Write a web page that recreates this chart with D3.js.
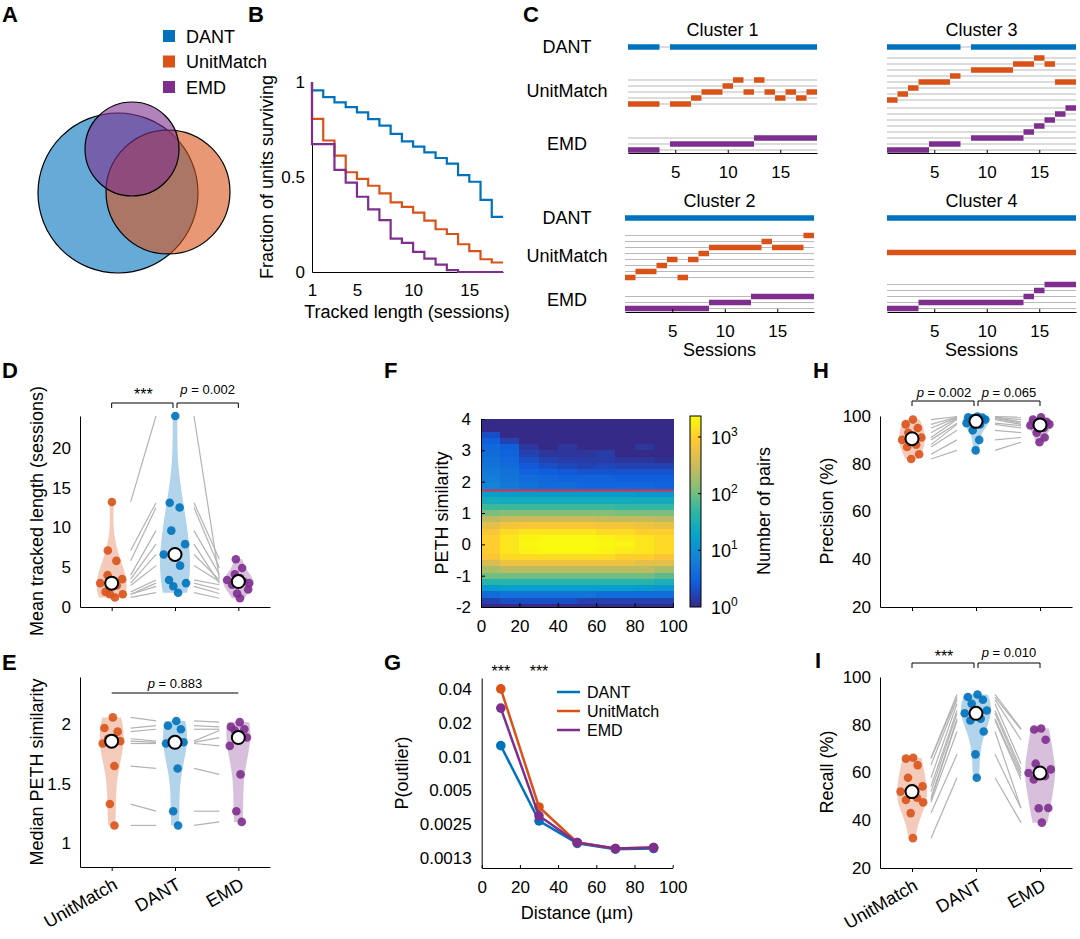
<!DOCTYPE html>
<html>
<head>
<meta charset="utf-8">
<script src="https://cdn.jsdelivr.net/npm/d3@7"></script>
<style>
  body { margin: 0; background: #fff; }
  svg text { font-family: "Liberation Sans", Arial, Helvetica, sans-serif; fill: #000; }
</style>
</head>
<body>
<script>
// ---------- data ----------
const methods = ['DANT', 'UnitMatch', 'EMD'];
const methodColors = { DANT: '#0072BD', UnitMatch: '#D95319', EMD: '#7E2F8E' };

// A: relative set sizes (DANT, UnitMatch, EMD)
const vennSizes = [1.0, 0.60, 0.345];

// B: fraction of units surviving per tracked length
const bSessions = [1, 2, 3, 4, 5, 6, 7, 8, 9, 10, 11, 12, 13, 14, 15, 16, 17];
const bDANT = [0.956, 0.92, 0.893, 0.868, 0.84, 0.805, 0.77, 0.727, 0.687, 0.66, 0.63, 0.60, 0.57, 0.51, 0.475, 0.38, 0.29];
const bUM   = [0.806, 0.692, 0.613, 0.525, 0.49, 0.454, 0.414, 0.366, 0.343, 0.313, 0.27, 0.225, 0.2, 0.146, 0.11, 0.067, 0.05];
const bEMD  = [0.673, 0.673, 0.537, 0.47, 0.396, 0.33, 0.273, 0.176, 0.153, 0.106, 0.07, 0.039, 0.01, 0, 0, 0, 0];
const bXTicks = [1, 5, 10, 15];
const bYTicks = [0, 0.5, 1];

// C: unit row per session (null = not tracked)
const cSessions = [1, 2, 3, 4, 5, 6, 7, 8, 9, 10, 11, 12, 13, 14, 15, 16, 17, 18];
const c1DANT = [0, 0, 0, null, 0, 0, 0, 0, 0, 0, 0, 0, 0, 0, 0, 0, 0, 0];
const c1UM   = [0, 0, 0, null, 0, 0, 1, 2, 2, 3, 4, 2, 4, 2, 1, 2, 1, 2];
const c1EMD  = [0, 0, 0, null, 1, 1, 1, 1, 1, 1, 1, 1, 2, 2, 2, 2, 2, 2];
const c2DANT = [0, 0, 0, 0, 0, 0, 0, 0, 0, 0, 0, 0, 0, 0, 0, 0, 0, 0];
const c2UM   = [0, 1, 1, 2, 3, 0, 3, 4, 5, 5, 5, 5, 5, 6, 5, 5, 5, 7];
const c2EMD  = [0, 0, 0, 0, 0, 0, 0, 0, 1, 1, 1, 1, 2, 2, 2, 2, 2, 2];
const c3DANT = [0, 0, 0, 0, 0, 0, 0, null, 0, 0, 0, 0, 0, 0, 0, 0, 0, 0];
const c3UM   = [0, 1, 2, 3, 3, 3, 4, null, 5, 5, 5, 5, 6, 6, 7, 6, 3, 3];
const c3EMD  = [0, 0, 0, 0, 1, 1, 1, null, 2, 2, 2, 2, 2, 3, 4, 5, 6, 7];
const c4DANT = [0, 0, 0, 0, 0, 0, 0, 0, 0, 0, 0, 0, 0, 0, 0, 0, 0, 0];
const c4UM   = [0, 0, 0, 0, 0, 0, 0, 0, 0, 0, 0, 0, 0, 0, 0, 0, 0, 0];
const c4EMD  = [0, 0, 0, 1, 1, 1, 1, 1, 1, 1, 1, 1, 1, 2, 3, 4, 4, 4];
const cXTicks = [5, 10, 15];

// violin panels: category order on the axis
const violinCats = ['UnitMatch', 'DANT', 'EMD'];
// D: mean tracked length (sessions), paired by index
const dUM   = [13.2, 7.1, 5.8, 4.0, 3.5, 3.0, 2.7, 1.9, 1.6, 1.6, 1.2];
const dDANT = [24.0, 13.1, 12.5, 9.6, 7.9, 6.6, 5.2, 3.4, 3.0, 2.6, 1.8];
const dEMD  = [3.6, 6.0, 4.9, 4.1, 3.0, 3.4, 3.2, 2.8, 2.2, 1.7, 1.1];
const dYTicks = [0, 5, 10, 15, 20];
// E: median PETH similarity
const eUM   = [2.06, 1.97, 1.94, 1.88, 1.86, 1.84, 1.65, 1.33, 1.15];
const eDANT = [2.03, 1.99, 1.96, 1.86, 1.85, 1.84, 1.63, 1.27, 1.15];
const eEMD  = [2.02, 1.98, 1.96, 1.95, 1.89, 1.82, 1.58, 1.27, 1.18];
const eYTicks = [1, 1.5, 2];
// H: precision (%)
const hUM   = [98.5, 96.5, 95, 93, 91, 90, 88, 87, 84, 82];
const hDANT = [99.8, 99.5, 99.3, 99.0, 98.5, 97.0, 96.5, 94, 90, 85.6];
const hEMD  = [99.5, 98.5, 97.5, 97, 96.5, 96, 95, 93, 91, 89];
// I: recall (%)
const iUM   = [66.2, 65.8, 63.1, 57.8, 54.2, 52.0, 49.4, 48.5, 47.5, 43.0, 32.5];
const iDANT = [92.7, 91.6, 90.5, 88.8, 86.0, 84.8, 82.5, 81.8, 77.2, 67.6, 57.8];
const iEMD  = [78.4, 78.0, 73.7, 63.7, 61.3, 59.8, 58.5, 57.1, 45.1, 45.0, 39.0];
const pctTicks = [20, 40, 60, 80, 100];

// F: 2D histogram, log10(number of pairs); rows given by their upper edge
const fColStarts = [0, 10, 20, 30, 40, 50, 60, 70, 80, 90];
const fRowTops = [4.0, 3.8, 3.6, 3.4, 3.2, 3.0, 2.8, 2.6, 2.4, 2.2, 2.0, 1.8, 1.7, 1.5, 1.3, 1.1, 0.9, 0.7, 0.5, 0.3, 0.1, -0.1, -0.3, -0.5, -0.7, -0.9, -1.1, -1.3, -1.5, -1.7, -1.9];
const fLogCounts = [
  [0, 0, 0, 0, 0, 0, 0, 0, 0, 0],
  [0, 0, 0, 0, 0, 0, 0, 0, 0, 0],
  [0.3, 0, 0, 0, 0, 0, 0, 0, 0, 0],
  [0.45, 0.2, 0, 0, 0, 0, 0, 0, 0, 0],
  [0.55, 0.45, 0.1, 0, 0.1, 0, 0, 0, 0.1, 0],
  [0.6, 0.5, 0.2, 0.1, 0.1, 0.1, 0.15, 0, 0, 0],
  [0.65, 0.55, 0.3, 0.2, 0.15, 0.15, 0.15, 0.1, 0.1, 0.05],
  [0.7, 0.6, 0.4, 0.3, 0.25, 0.2, 0.25, 0.2, 0.2, 0.2],
  [0.75, 0.65, 0.5, 0.45, 0.4, 0.35, 0.35, 0.35, 0.35, 0.35],
  [0.8, 0.7, 0.6, 0.55, 0.5, 0.5, 0.5, 0.45, 0.45, 0.45],
  [0.85, 0.75, 0.65, 0.6, 0.6, 0.55, 0.55, 0.55, 0.55, 0.5],
  [0.9, 0.8, 0.7, 0.65, 0.65, 0.6, 0.6, 0.6, 0.6, 0.55],
  [1.2, 1.15, 1.15, 1.15, 1.15, 1.15, 1.15, 1.15, 1.1, 1.1],
  [1.45, 1.4, 1.4, 1.4, 1.4, 1.4, 1.4, 1.4, 1.4, 1.4],
  [1.75, 1.75, 1.75, 1.75, 1.75, 1.75, 1.75, 1.7, 1.7, 1.7],
  [2.05, 2.1, 2.1, 2.1, 2.1, 2.1, 2.1, 2.05, 2.05, 2.05],
  [2.4, 2.5, 2.5, 2.5, 2.5, 2.5, 2.45, 2.45, 2.45, 2.4],
  [2.7, 2.85, 2.9, 2.9, 2.9, 2.9, 2.85, 2.85, 2.8, 2.75],
  [2.9, 3.1, 3.2, 3.2, 3.2, 3.2, 3.1, 3.1, 3.0, 3.0],
  [3.0, 3.2, 3.3, 3.35, 3.35, 3.35, 3.3, 3.25, 3.2, 3.1],
  [3.0, 3.2, 3.35, 3.37, 3.37, 3.37, 3.35, 3.3, 3.2, 3.1],
  [3.0, 3.2, 3.3, 3.35, 3.35, 3.35, 3.3, 3.25, 3.2, 3.1],
  [2.9, 3.1, 3.1, 3.1, 3.1, 3.1, 3.1, 3.0, 3.0, 2.9],
  [2.6, 2.8, 2.8, 2.8, 2.8, 2.8, 2.8, 2.8, 2.7, 2.7],
  [2.3, 2.4, 2.4, 2.4, 2.4, 2.4, 2.4, 2.4, 2.4, 2.3],
  [2.0, 2.0, 2.0, 2.0, 2.0, 2.0, 2.0, 2.0, 2.0, 1.9],
  [1.6, 1.6, 1.6, 1.6, 1.6, 1.6, 1.6, 1.6, 1.6, 1.5],
  [1.15, 1.2, 1.2, 1.2, 1.2, 1.2, 1.2, 1.2, 1.15, 1.1],
  [0.6, 0.7, 0.7, 0.7, 0.7, 0.7, 0.6, 0.6, 0.6, 0.6],
  [0.2, 0.3, 0.3, 0.3, 0.3, 0.2, 0.2, 0.2, 0.2, 0.2],
  [0, 0, 0, 0, 0, 0, 0, 0, 0, 0]
];
const fThreshold = 1.72;
const fXTicks = [0, 20, 40, 60, 80, 100];
const fYTicks = [-2, -1, 0, 1, 2, 3, 4];
const fColorMaxLog = 3.37;
const fColorTicks = [0, 1, 2, 3];

// G: P(outlier) vs distance
const gDist = [10, 30, 50, 70, 90];
const gDANT = [0.0125, 0.00268, 0.00169, 0.0015, 0.00152];
const gUM   = [0.04, 0.00356, 0.00172, 0.00152, 0.00155];
const gEMD  = [0.027, 0.00297, 0.00172, 0.00152, 0.00155];
const gYTicks = [0.04, 0.02, 0.01, 0.005, 0.0025, 0.00125];
const gYTickLabels = ['0.04', '0.02', '0.01', '0.005', '0.0025', '0.0013'];
const gXTicks = [0, 20, 40, 60, 80, 100];
const gStarDist = [10, 30];

// ---------- helpers ----------
const parulaStops = ['#352a87', '#0f5cdd', '#1481d6', '#06a4ca', '#2eb7a4', '#87bf77', '#d1bb59', '#fec832', '#f9fb0e'];
const parula = d3.scaleLinear()
  .domain(parulaStops.map((c, i) => i / (parulaStops.length - 1)))
  .range(parulaStops).clamp(true);

const svg = d3.select('body').append('svg').attr('width', 1080).attr('height', 939);

function styleAxis(g, fs) {
  g.attr('font-family', '"Liberation Sans", Arial, sans-serif').attr('font-size', fs || 17);
  g.select('.domain').attr('stroke', '#000').attr('stroke-width', 1);
  g.selectAll('.tick line').attr('stroke', '#000');
  g.selectAll('.tick text').attr('fill', '#000');
}
function letter(t, x, y) {
  svg.append('text').attr('x', x).attr('y', y).attr('font-size', 22).attr('font-weight', 'bold').text(t);
}
function yLabel(t, x, y, fs) {
  svg.append('text').attr('transform', `translate(${x},${y}) rotate(-90)`)
    .attr('text-anchor', 'middle').attr('dy', '0.35em').attr('font-size', fs || 18).text(t);
}
function label(t, x, y, fs, anchor) {
  return svg.append('text').attr('x', x).attr('y', y).attr('font-size', fs || 18)
    .attr('text-anchor', anchor || 'middle').text(t);
}
function pText(x, y, val) {
  const t = svg.append('text').attr('x', x).attr('y', y).attr('text-anchor', 'middle').attr('font-size', 13);
  t.append('tspan').attr('font-style', 'italic').text('p');
  t.append('tspan').text(' = ' + val);
}
function stars(x, y) {
  svg.append('text').attr('x', x).attr('y', y).attr('text-anchor', 'middle').attr('font-size', 16).text('***');
}
function bracket(xa, xb, yTop, leg) {
  svg.append('path').attr('d', `M${xa},${yTop + leg}V${yTop}H${xb}V${yTop + leg}`)
    .attr('fill', 'none').attr('stroke', '#000').attr('stroke-width', 1);
}

// ---------- A ----------
letter('A', 2, 22);
const rVenn = d3.scaleSqrt().domain([0, 1]).range([0, 80]);
const vennCenters = [[118, 193], [168, 192], [132, 149]];
methods.forEach((m, i) => {
  svg.append('circle').attr('cx', vennCenters[i][0]).attr('cy', vennCenters[i][1])
    .attr('r', rVenn(vennSizes[i])).attr('fill', methodColors[m]).attr('fill-opacity', 0.6)
    .attr('stroke', '#000').attr('stroke-width', 1.2);
});
methods.forEach((m, i) => {
  svg.append('rect').attr('x', 163).attr('y', 30 + i * 25.5).attr('width', 12).attr('height', 12)
    .attr('fill', methodColors[m]);
  label(m, 186, 42.5 + i * 25.5, 18, 'start');
});

// ---------- B ----------
letter('B', 248, 22);
const xB = d3.scaleLinear().domain([1, 18]).range([312, 503]);
const yB = d3.scaleLinear().domain([0, 1]).range([272, 82]);
styleAxis(svg.append('g').attr('transform', 'translate(312,0)')
  .call(d3.axisLeft(yB).tickValues(bYTicks).tickSize(0).tickPadding(7).tickFormat(d => String(d))));
styleAxis(svg.append('g').attr('transform', 'translate(0,272)')
  .call(d3.axisBottom(xB).tickValues(bXTicks).tickSize(0).tickPadding(12)));
const stepLine = d3.line().x(d => xB(d[0])).y(d => yB(d[1])).curve(d3.curveStepAfter);
function survPts(vals) {
  const pts = [[1, 1]];
  bSessions.forEach((s, i) => pts.push([s, vals[i]]));
  pts.push([18, vals[vals.length - 1]]);
  return pts;
}
[['DANT', bDANT], ['UnitMatch', bUM], ['EMD', bEMD]].forEach(([m, vals]) => {
  svg.append('path').datum(survPts(vals)).attr('d', stepLine)
    .attr('fill', 'none').attr('stroke', methodColors[m]).attr('stroke-width', 2.2);
});
yLabel('Fraction of units surviving', 267, 177, 18);
label('Tracked length (sessions)', 407, 318, 18);

// ---------- C ----------
letter('C', 523, 22);
const rowStep = 6, barH = 5.5;
const cClusters = [
  { title: 'Cluster 1', rows: [c1DANT, c1UM, c1EMD] },
  { title: 'Cluster 3', rows: [c3DANT, c3UM, c3EMD] },
  { title: 'Cluster 2', rows: [c2DANT, c2UM, c2EMD] },
  { title: 'Cluster 4', rows: [c4DANT, c4UM, c4EMD] }
];
// layout: x range, axis y, and y of row 0 for DANT / UnitMatch / EMD
const cLayout = [
  { x0: 628, x1: 817, axisY: 153, base: [47, 104, 150], titleY: 36, sessions: false },
  { x0: 887, x1: 1076, axisY: 153, base: [47, 100, 150], titleY: 36, sessions: false },
  { x0: 625, x1: 814, axisY: 312, base: [218, 277.5, 308.5], titleY: 207, sessions: true },
  { x0: 887, x1: 1076, axisY: 312, base: [218, 252.5, 308.5], titleY: 207, sessions: true }
];
function runs(rows) {
  const out = [];
  let cur = null;
  rows.forEach((r, i) => {
    const s = cSessions[i];
    if (r === null) { cur = null; return; }
    if (cur && cur.row === r && cur.end === s - 1) cur.end = s;
    else { cur = { row: r, start: s, end: s }; out.push(cur); }
  });
  return out;
}
cClusters.forEach((cl, ci) => {
  const L = cLayout[ci];
  const xC = d3.scaleLinear().domain([0.5, 18.5]).range([L.x0, L.x1]);
  const g = svg.append('g');
  cl.rows.forEach((rows, mi) => {
    const m = methods[mi];
    const nRows = d3.max(rows) + 1;
    const rowY = k => L.base[mi] - k * rowStep;
    for (let k = 0; k < nRows; k++) {
      g.append('line').attr('x1', xC(0.5)).attr('x2', xC(18.5)).attr('y1', rowY(k)).attr('y2', rowY(k))
        .attr('stroke', '#b9b9b9').attr('stroke-width', 1.2);
    }
    g.selectAll(null).data(runs(rows)).join('rect')
      .attr('x', d => xC(d.start - 0.5)).attr('width', d => xC(d.end + 0.5) - xC(d.start - 0.5))
      .attr('y', d => rowY(d.row) - barH / 2).attr('height', barH)
      .attr('fill', methodColors[m]);
  });
  styleAxis(g.append('g').attr('transform', `translate(0,${L.axisY})`)
    .call(d3.axisBottom(xC).tickValues(cXTicks).tickSizeInner(-3).tickSizeOuter(0).tickPadding(13)));
  label(cl.title, (L.x0 + L.x1) / 2, L.titleY, 18);
  if (L.sessions) label('Sessions', (L.x0 + L.x1) / 2, 356, 18);
});
// method labels on the left of clusters 1 and 2
[[53, 97, 150], [224, 262, 306]].forEach(ys => {
  methods.forEach((m, i) => label(m, 567, ys[i], 18));
});

// ---------- violin panels (D, E, H, I) ----------
const jitter = [0.15, -0.75, 0.6, -0.35, 0.85, -0.9, 0.4, -0.5, 0.95, -0.15, 0.3];
function violinPanel(opt) {
  const x = d3.scalePoint().domain(violinCats).range([opt.xL, opt.xR]).padding(0.5);
  const y = opt.y;
  const g = svg.append('g');
  // paired lines
  for (let c = 0; c < 2; c++) {
    const a = opt.groups[c], b = opt.groups[c + 1];
    a.forEach((v, i) => {
      g.append('line').attr('x1', x(violinCats[c]) + 19).attr('x2', x(violinCats[c + 1]) - 19)
        .attr('y1', y(v)).attr('y2', y(b[i])).attr('stroke', '#b3b3b3').attr('stroke-width', 1.2);
    });
  }
  opt.groups.forEach((vals, gi) => {
    const m = violinCats[gi];
    const cx = x(m);
    const lo = d3.min(vals), hi = d3.max(vals);
    const h = 1.06 * d3.deviation(vals) * Math.pow(vals.length, -0.2) * (opt.bw || 1);
    const dens = t => d3.mean(vals, v => Math.exp(-0.5 * ((t - v) / h) ** 2));
    const grid = d3.range(0, 61).map(i => lo + (hi - lo) * i / 60);
    const pts = grid.map(t => [t, dens(t)]);
    const w = d3.scaleLinear().domain([0, d3.max(pts, d => d[1])]).range([0, opt.halfW || 15]);
    const area = d3.area().y(d => y(d[0])).x0(d => cx - w(d[1])).x1(d => cx + w(d[1])).curve(d3.curveBasis);
    g.append('path').datum(pts).attr('d', area).attr('fill', methodColors[m]).attr('fill-opacity', 0.3);
    g.selectAll(null).data(vals).join('circle')
      .attr('cx', (v, i) => cx + jitter[i % jitter.length] * w(dens(v)) * 0.85)
      .attr('cy', v => y(v)).attr('r', 4.3)
      .attr('fill', methodColors[m]).attr('fill-opacity', 0.9);
    g.append('circle').attr('cx', cx).attr('cy', y(d3.median(vals))).attr('r', 6.5)
      .attr('fill', '#fff').attr('stroke', '#000').attr('stroke-width', 2);
  });
  styleAxis(g.append('g').attr('transform', `translate(${opt.xL},0)`)
    .call(d3.axisLeft(y).tickValues(opt.yTicks).tickSize(0).tickPadding(9).tickFormat(d => String(d))));
  styleAxis(g.append('g').attr('transform', `translate(0,${y.range()[0]})`)
    .call(d3.axisBottom(x).tickSizeInner(4).tickSizeOuter(0).tickFormat('')));
  if (opt.catLabels) {
    violinCats.forEach(m => {
      svg.append('text').attr('transform', `translate(${x(m) + 7},${y.range()[0] + 21}) rotate(-30)`)
        .attr('text-anchor', 'end').attr('font-size', 18).text(m);
    });
  }
  return x;
}

// D
letter('D', 2, 378);
const yD = d3.scaleLinear().domain([0, 24]).range([607, 416]);
const xD = violinPanel({ xL: 80, xR: 270, y: yD, groups: [dUM, dDANT, dEMD], yTicks: dYTicks, halfW: 15 });
bracket(xD('UnitMatch'), xD('DANT') - 2, 403, 5);
bracket(xD('DANT') + 2, xD('EMD'), 403, 5);
stars((xD('UnitMatch') + xD('DANT')) / 2, 400);
pText((xD('DANT') + xD('EMD')) / 2 + 1, 394, '0.002');
yLabel('Mean tracked length (sessions)', 37, 511, 18);

// E
letter('E', 2, 670);
const yE = d3.scaleLinear().domain([0.8, 2.4]).range([867, 677]);
const xE = violinPanel({ xL: 80, xR: 270, y: yE, groups: [eUM, eDANT, eEMD], yTicks: eYTicks, halfW: 12, catLabels: true });
svg.append('line').attr('x1', xE('UnitMatch')).attr('x2', xE('EMD')).attr('y1', 693).attr('y2', 693)
  .attr('stroke', '#000').attr('stroke-width', 1);
pText(xE('DANT'), 688, '0.883');
yLabel('Median PETH similarity', 37, 772, 18);

// H
letter('H', 813, 378);
const yH = d3.scaleLinear().domain([20, 100]).range([607, 416]);
const xH = violinPanel({ xL: 880, xR: 1072, y: yH, groups: [hUM, hDANT, hEMD], yTicks: pctTicks, halfW: 13 });
bracket(xH('UnitMatch'), xH('DANT') - 2, 401, 5);
bracket(xH('DANT') + 2, xH('EMD'), 401, 5);
pText((xH('UnitMatch') + xH('DANT')) / 2, 397, '0.002');
pText((xH('DANT') + xH('EMD')) / 2 + 1, 397, '0.065');
yLabel('Precision (%)', 827, 511, 18);

// I
letter('I', 815, 668);
const yI = d3.scaleLinear().domain([20, 100]).range([868, 677]);
const xI = violinPanel({ xL: 880, xR: 1072, y: yI, groups: [iUM, iDANT, iEMD], yTicks: pctTicks, halfW: 15, catLabels: true });
bracket(xI('UnitMatch'), xI('DANT') - 2, 663, 5);
bracket(xI('DANT') + 2, xI('EMD'), 663, 5);
stars((xI('UnitMatch') + xI('DANT')) / 2, 662);
pText((xI('DANT') + xI('EMD')) / 2 + 1, 657, '0.010');
yLabel('Recall (%)', 827, 772, 18);

// ---------- F ----------
letter('F', 384, 378);
const xF = d3.scaleLinear().domain([0, 100]).range([481, 673]);
const yF = d3.scaleLinear().domain([-2, 4]).range([607, 419]);
const gF = svg.append('g').attr('shape-rendering', 'crispEdges');
fLogCounts.forEach((row, ri) => {
  const top = fRowTops[ri];
  const bottom = ri + 1 < fRowTops.length ? fRowTops[ri + 1] : -2;
  row.forEach((v, ci) => {
    const x0 = fColStarts[ci], x1 = ci + 1 < fColStarts.length ? fColStarts[ci + 1] : 100;
    gF.append('rect').attr('x', xF(x0)).attr('y', yF(top))
      .attr('width', xF(x1) - xF(x0) + 0.5).attr('height', yF(bottom) - yF(top) + 0.5)
      .attr('fill', parula(v / fColorMaxLog));
  });
});
svg.append('line').attr('x1', xF(0)).attr('x2', xF(100)).attr('y1', yF(fThreshold)).attr('y2', yF(fThreshold))
  .attr('stroke', '#dc2f4c').attr('stroke-width', 2);
styleAxis(svg.append('g').attr('transform', 'translate(481,0)')
  .call(d3.axisLeft(yF).tickValues(fYTicks).tickSizeInner(-4).tickSizeOuter(0).tickPadding(10).tickFormat(d => String(d))));
styleAxis(svg.append('g').attr('transform', 'translate(0,607)')
  .call(d3.axisBottom(xF).tickValues(fXTicks).tickSizeInner(-4).tickSizeOuter(0).tickPadding(13)));
yLabel('PETH similarity', 442, 513, 18);
// colorbar
const defs = svg.append('defs');
const grad = defs.append('linearGradient').attr('id', 'parulaGrad')
  .attr('x1', 0).attr('y1', 1).attr('x2', 0).attr('y2', 0);
parulaStops.forEach((c, i) => grad.append('stop').attr('offset', i / (parulaStops.length - 1)).attr('stop-color', c));
const yCb = d3.scaleLinear().domain([0, fColorMaxLog]).range([607, 416]);
svg.append('rect').attr('x', 690).attr('y', yCb(fColorMaxLog)).attr('width', 11)
  .attr('height', yCb(0) - yCb(fColorMaxLog)).attr('fill', 'url(#parulaGrad)')
  .attr('stroke', '#000').attr('stroke-width', 1);
fColorTicks.forEach(e => {
  if (e > 0) svg.append('line').attr('x1', 698).attr('x2', 701).attr('y1', yCb(e)).attr('y2', yCb(e)).attr('stroke', '#000');
  const t = svg.append('text').attr('x', 711).attr('y', yCb(e) + 7).attr('font-size', 18);
  t.append('tspan').text('10');
  t.append('tspan').attr('dy', -8).attr('font-size', 12).text(e);
});
yLabel('Number of pairs', 764, 511, 18);

// ---------- G ----------
letter('G', 384, 670);
const xG = d3.scaleLinear().domain([0, 100]).range([481.7, 672.7]);
const yG = d3.scaleLog().domain([0.00102, 0.05]).range([868, 678]);
styleAxis(svg.append('g').attr('transform', 'translate(481.7,0)')
  .call(d3.axisLeft(yG).tickValues(gYTicks).tickSize(0).tickPadding(10).tickFormat((d, i) => gYTickLabels[i])));
styleAxis(svg.append('g').attr('transform', 'translate(0,868)')
  .call(d3.axisBottom(xG).tickValues(gXTicks).tickSizeInner(-3).tickSizeOuter(0).tickPadding(13)));
const lineG = d3.line().x((d, i) => xG(gDist[i])).y(d => yG(d));
[['DANT', gDANT], ['UnitMatch', gUM], ['EMD', gEMD]].forEach(([m, vals]) => {
  svg.append('path').datum(vals).attr('d', lineG).attr('fill', 'none')
    .attr('stroke', methodColors[m]).attr('stroke-width', 2.5);
  svg.selectAll(null).data(vals).join('circle')
    .attr('cx', (d, i) => xG(gDist[i])).attr('cy', d => yG(d)).attr('r', 4.8)
    .attr('fill', methodColors[m]);
});
gStarDist.forEach(d => stars(xG(d), 677));
methods.forEach((m, i) => {
  svg.append('line').attr('x1', 557).attr('x2', 580).attr('y1', 692 + i * 19).attr('y2', 692 + i * 19)
    .attr('stroke', methodColors[m]).attr('stroke-width', 2.5);
  label(m, 587, 698 + i * 19, 16, 'start');
});
yLabel('P(outlier)', 402, 773, 18);
label('Distance (\u00b5m)', 577, 919, 18);
</script>
</body>
